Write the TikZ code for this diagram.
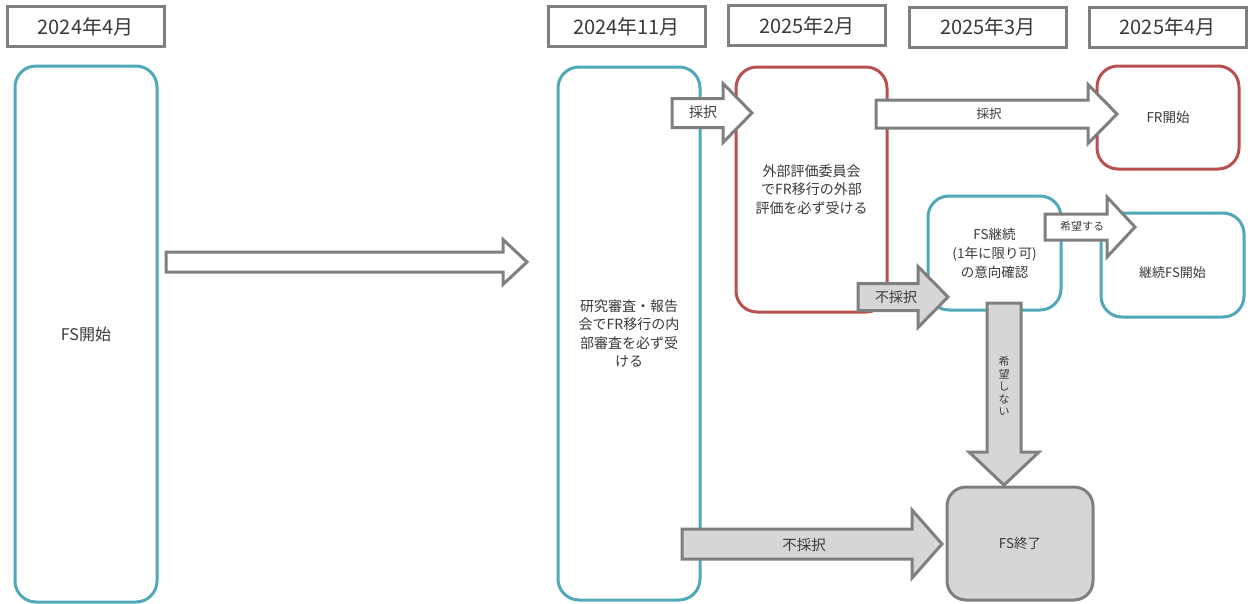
\documentclass[tikz,border=0pt]{standalone}
\usepackage{fontspec}
\setmainfont{Noto Sans CJK JP}
\definecolor{tealc}{HTML}{50A8B8}
\definecolor{redc}{HTML}{B85050}
\definecolor{grayc}{HTML}{7F7F7F}
\definecolor{fillc}{HTML}{D6D6D6}
\definecolor{txtc}{HTML}{3A3A3A}
\newcommand\rarrow[7]{% style, x0, xtip, yc, shaft half, head half, head length
  \draw[#1] (#2,{#4-#5}) -- ({#3-#7},{#4-#5}) -- ({#3-#7},{#4-#6}) -- (#3,#4)
    -- ({#3-#7},{#4+#6}) -- ({#3-#7},{#4+#5}) -- (#2,{#4+#5}) -- cycle;}
\newcommand\darrow[7]{% style, xc, y0, ytip, shaft half, head half, head length
  \draw[#1] ({#2-#5},#3) -- ({#2-#5},{#4-#7}) -- ({#2-#6},{#4-#7}) -- (#2,#4)
    -- ({#2+#6},{#4-#7}) -- ({#2+#5},{#4-#7}) -- ({#2+#5},#3) -- cycle;}
\tikzset{
  datebox/.style={draw=grayc, line width=3pt, fill=white, minimum width=157pt, minimum height=40pt,
    inner sep=0pt, text=txtc, font=\fontsize{20}{24}\selectfont},
  tealbox/.style={draw=tealc, line width=3pt, fill=white, rounded corners=21pt, inner sep=0pt,
    text=txtc, align=center},
  redbox/.style={draw=redc, line width=3pt, fill=white, rounded corners=21pt, inner sep=0pt,
    text=txtc, align=center},
  graybox/.style={draw=grayc, line width=3pt, fill=fillc, rounded corners=19pt, inner sep=0pt,
    text=txtc, align=center},
  warrow/.style={draw=grayc, line width=3pt, fill=white, line join=miter},
  garrow/.style={draw=grayc, line width=3pt, fill=fillc, line join=miter},
  lbl/.style={text=txtc, inner sep=0pt, align=center},
  body/.style={font=\fontsize{14}{18.5}\selectfont},
}
\begin{document}
\begin{tikzpicture}[x=1pt,y=-1pt]
\useasboundingbox (0,0) rectangle (1248,603);
% date headers
\node[datebox] (d1) at (85.5,26.5) {2024年4月};
\node[datebox] (d2) at (626.5,26.5) {2024年11月};
\node[datebox] (d3) at (807,25.5) {2025年2月};
\node[datebox] (d4) at (988,27) {2025年3月};
\node[datebox] (d5) at (1167.5,27) {2025年4月};
% boxes
\node[tealbox, minimum width=142pt, minimum height=536pt, font=\fontsize{16}{20}\selectfont] (fs) at (86,334) {FS開始};
\node[tealbox, minimum width=142pt, minimum height=533pt, body] (rev) at (629,333.5)
  {研究審査・報告\\会でFR移行の内\\部審査を必ず受\\ける};
\node[redbox, minimum width=151pt, minimum height=245pt, body] (ext) at (811.5,189.5)
  {外部評価委員会\\でFR移行の外部\\評価を必ず受ける};
\node[redbox, minimum width=142pt, minimum height=103pt, font=\fontsize{13.5}{16}\selectfont] (fr) at (1168,117.5) {FR開始};
\node[tealbox, minimum width=133pt, minimum height=114pt, font=\fontsize{13.5}{19}\selectfont] (cont) at (994.5,253)
  {FS継続\\(1年に限り可)\\の意向確認};
\node[tealbox, minimum width=143pt, minimum height=104pt] (cfs) at (1172.5,265) {};
\node[lbl, font=\fontsize{13}{16}\selectfont] (cfst) at ([yshift=-8pt]cfs.center) {継続FS開始};
\node[graybox, minimum width=146pt, minimum height=113pt, font=\fontsize{13.5}{16}\selectfont] (end) at (1020,543.5) {FS終了};
% block arrows
\rarrow{warrow}{166}{527}{262}{10}{22.5}{24}
\rarrow{warrow}{672}{752}{113}{14.5}{29.5}{29}
\node[lbl, font=\fontsize{14}{16}\selectfont] (a2) at (703,112) {採択};
\rarrow{warrow}{876}{1117}{114}{14}{29.5}{29}
\node[lbl, font=\fontsize{12.5}{15}\selectfont] (a3) at (989,114) {採択};
\rarrow{garrow}{858}{948}{297}{13.5}{30.5}{30}
\node[lbl, font=\fontsize{14}{16}\selectfont] (a4) at (896,297) {不採択};
\rarrow{warrow}{1045}{1135}{227}{13}{30}{28}
\node[lbl, font=\fontsize{11}{13}\selectfont] (a5) at (1082,226) {希望する};
\darrow{garrow}{1004}{303}{485}{17}{35}{33}
\node[lbl, font=\fontsize{11}{12.5}\selectfont] (a6) at (1004,386) {希\\望\\し\\な\\い};
\rarrow{garrow}{682}{942}{544}{15}{34}{30}
\node[lbl, font=\fontsize{14.5}{16}\selectfont] (a7) at (804,545) {不採択};
\end{tikzpicture}
\end{document}
